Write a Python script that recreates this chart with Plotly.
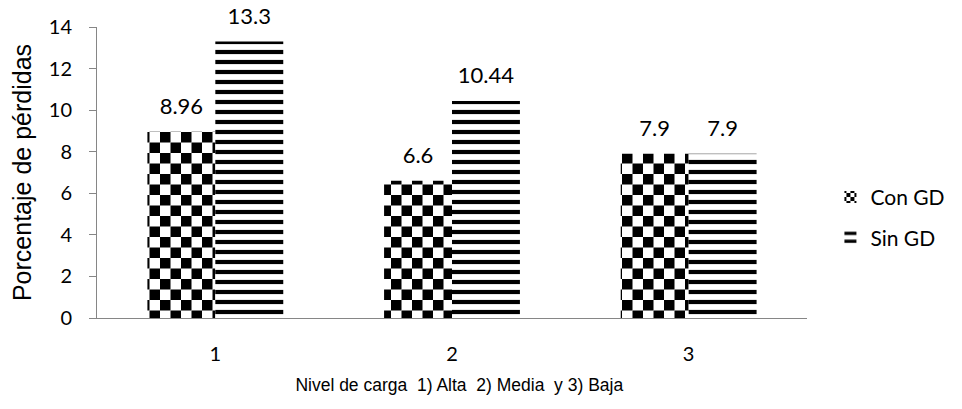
import plotly.graph_objects as go

categories = ["1", "2", "3"]
con_gd = [8.96, 6.6, 7.9]
sin_gd = [13.3, 10.44, 7.9]
con_labels = ["8.96", "6.6", "7.9"]
sin_labels = ["13.3", "10.44", "7.9"]
series_names = ["Con GD", "Sin GD"]
y_ticks = [0, 2, 4, 6, 8, 10, 12, 14]

TICK_FONT = dict(family="Lato", size=20, color="#000000")
LABEL_FONT = dict(family="Lato", size=22, color="#000000")
AXIS_GRAY = "#868686"
GAP = 0.426

fig = go.Figure()
fig.add_trace(go.Bar(
    x=categories, y=con_gd, name=series_names[0], offsetgroup="a",
    marker=dict(color="#ffffff", line=dict(width=0),
                pattern=dict(shape=".", size=21, solidity=0.3,
                             fgcolor="#000000", bgcolor="#ffffff", fillmode="replace")),
    legendgroup="g1", hoverinfo="skip",
))
fig.add_trace(go.Bar(
    x=categories, y=sin_gd, name=series_names[1], offsetgroup="b",
    marker=dict(color="#ffffff", line=dict(width=0),
                pattern=dict(shape="-", size=10, solidity=0.42,
                             fgcolor="#000000", bgcolor="#ffffff", fillmode="replace")),
    legendgroup="g2", hoverinfo="skip",
))
for vals, labs, grp in [(con_gd, con_labels, "a"), (sin_gd, sin_labels, "b")]:
    fig.add_trace(go.Scatter(
        x=categories, y=vals, text=labs, mode="markers+text", offsetgroup=grp,
        textposition="top center", textfont=LABEL_FONT, cliponaxis=False,
        marker=dict(size=18, color="rgba(0,0,0,0)"), showlegend=False, hoverinfo="skip",
    ))

fig.update_layout(
    width=962, height=409,
    margin=dict(l=97, r=149, t=27, b=91),
    paper_bgcolor="#ffffff", plot_bgcolor="#ffffff",
    barmode="group", bargap=GAP, bargroupgap=0,
    scattermode="group", scattergap=GAP,
    showlegend=True,
    legend=dict(x=1.033, xanchor="left", y=0.485, yanchor="top",
                font=dict(family="Lato", size=21, color="#000000"),
                tracegroupgap=10, traceorder="grouped", bgcolor="rgba(0,0,0,0)"),
    xaxis=dict(
        type="category", showline=True, linecolor=AXIS_GRAY, linewidth=1,
        ticks="", tickfont=TICK_FONT, ticklabelstandoff=18, showgrid=False,
        zeroline=False,
        title=dict(text="&nbsp;&nbsp;&nbsp;Nivel de carga  1) Alta  2) Media  y 3) Baja",
                   font=dict(family="Liberation Sans", size=17.5, color="#000000"),
                   standoff=14),
    ),
    yaxis=dict(
        range=[0, 14], tickvals=y_ticks, showline=True, linecolor=AXIS_GRAY,
        linewidth=1, ticks="outside", ticklen=7, tickcolor=AXIS_GRAY,
        tickfont=TICK_FONT, ticklabelstandoff=13, showgrid=False, zeroline=False,
        title=dict(text="Porcentaje de pérdidas",
                   font=dict(family="Liberation Sans", size=25, color="#000000"),
                   standoff=10),
    ),
)

post = """
document.body.style.margin = '0';
document.body.style.overflow = 'hidden';
var ns = 'http://www.w3.org/2000/svg';
document.querySelectorAll('pattern').forEach(function(p){
  var cs = p.querySelectorAll('circle');
  if (!cs.length) return;
  var s = parseFloat(p.getAttribute('width'));
  cs.forEach(function(c){ c.remove(); });
  [[0,0],[s/2,s/2]].forEach(function(o){
    var r = document.createElementNS(ns, 'rect');
    r.setAttribute('x', o[0]); r.setAttribute('y', o[1]);
    r.setAttribute('width', s/2); r.setAttribute('height', s/2);
    r.setAttribute('fill', '#000000');
    p.appendChild(r);
  });
});
"""

fig.write_html("out.html", post_script=post, config=dict(displayModeBar=False))
